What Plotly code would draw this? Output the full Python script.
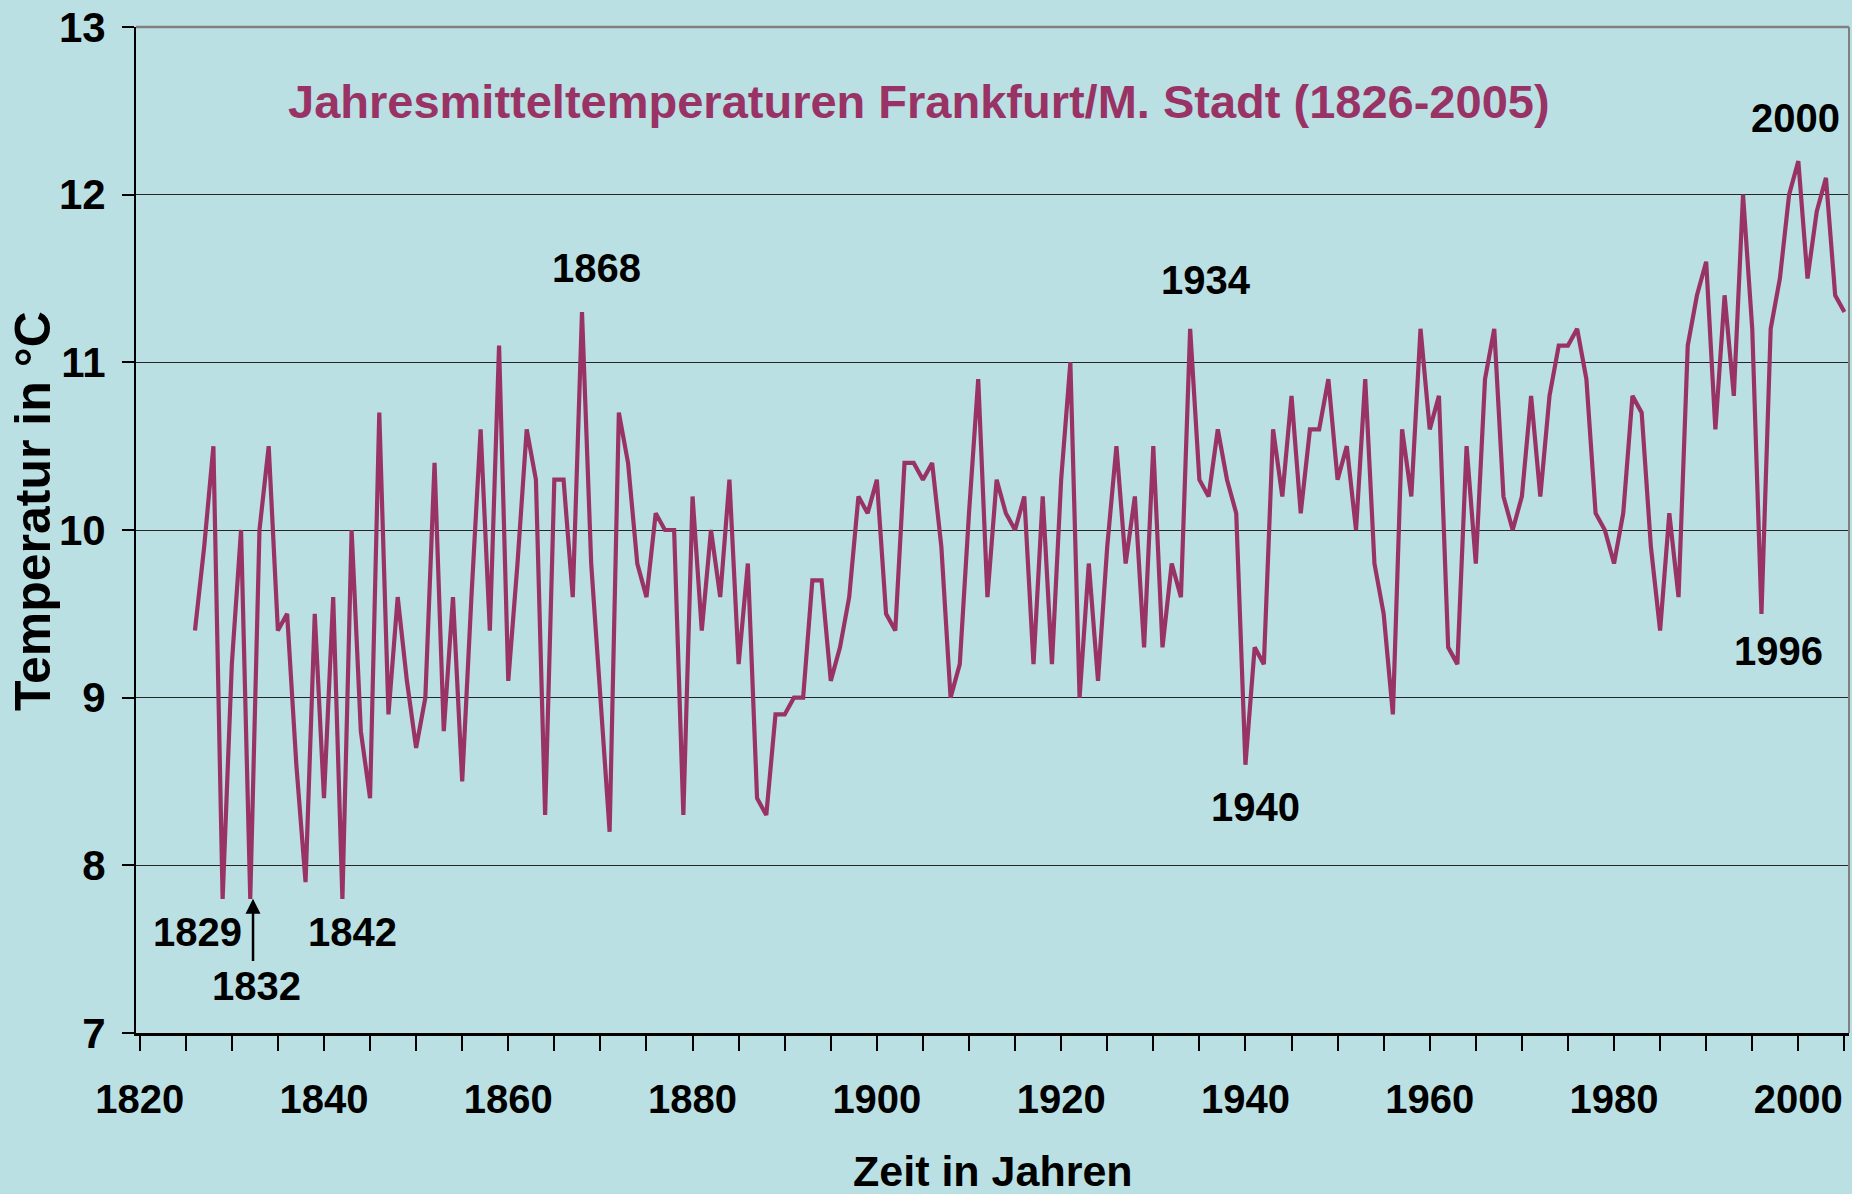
import plotly.graph_objects as go

# ---- data -----------------------------------------------------------------
years = list(range(1826, 2006))
temps = [
    9.4, 9.9, 10.5, 7.8, 9.2, 10.0, 7.8, 10.0, 10.5, 9.4,      # 1826-1835
    9.5, 8.6, 7.9, 9.5, 8.4, 9.6, 7.8, 10.0, 8.8, 8.4,         # 1836-1845
    10.7, 8.9, 9.6, 9.1, 8.7, 9.0, 10.4, 8.8, 9.6, 8.5,        # 1846-1855
    9.6, 10.6, 9.4, 11.1, 9.1, 9.8, 10.6, 10.3, 8.3, 10.3,     # 1856-1865
    10.3, 9.6, 11.3, 9.8, 9.0, 8.2, 10.7, 10.4, 9.8, 9.6,      # 1866-1875
    10.1, 10.0, 10.0, 8.3, 10.2, 9.4, 10.0, 9.6, 10.3, 9.2,    # 1876-1885
    9.8, 8.4, 8.3, 8.9, 8.9, 9.0, 9.0, 9.7, 9.7, 9.1,          # 1886-1895
    9.3, 9.6, 10.2, 10.1, 10.3, 9.5, 9.4, 10.4, 10.4, 10.3,    # 1896-1905
    10.4, 9.9, 9.0, 9.2, 10.1, 10.9, 9.6, 10.3, 10.1, 10.0,    # 1906-1915
    10.2, 9.2, 10.2, 9.2, 10.3, 11.0, 9.0, 9.8, 9.1, 9.9,      # 1916-1925
    10.5, 9.8, 10.2, 9.3, 10.5, 9.3, 9.8, 9.6, 11.2, 10.3,     # 1926-1935
    10.2, 10.6, 10.3, 10.1, 8.6, 9.3, 9.2, 10.6, 10.2, 10.8,   # 1936-1945
    10.1, 10.6, 10.6, 10.9, 10.3, 10.5, 10.0, 10.9, 9.8, 9.5,  # 1946-1955
    8.9, 10.6, 10.2, 11.2, 10.6, 10.8, 9.3, 9.2, 10.5, 9.8,    # 1956-1965
    10.9, 11.2, 10.2, 10.0, 10.2, 10.8, 10.2, 10.8, 11.1, 11.1,  # 1966-1975
    11.2, 10.9, 10.1, 10.0, 9.8, 10.1, 10.8, 10.7, 9.9, 9.4,   # 1976-1985
    10.1, 9.6, 11.1, 11.4, 11.6, 10.6, 11.4, 10.8, 12.0, 11.2, # 1986-1995
    9.5, 11.2, 11.5, 12.0, 12.2, 11.5, 11.9, 12.1, 11.4, 11.3, # 1996-2005
]

x_tick_vals = list(range(1820, 2006, 5))
x_tick_text = [str(v) if v % 20 == 0 else "" for v in x_tick_vals]
y_tick_vals = [7, 8, 9, 10, 11, 12, 13]

title_text = "Jahresmitteltemperaturen Frankfurt/M. Stadt (1826-2005)"
x_title = "Zeit in Jahren"
y_title = "Temperatur in °C"

# year labels: (text, x, y)
year_labels = [
    ("1868", 1869.6, 11.56),
    ("1934", 1935.7, 11.49),
    ("2000", 1999.7, 12.46),
    ("1996", 1997.8, 9.28),
    ("1940", 1941.1, 8.35),
    ("1829", 1826.3, 7.60),
    ("1842", 1843.1, 7.60),
    ("1832", 1832.7, 7.28),
]

# ---- style ----------------------------------------------------------------
BG = "#BBE0E3"
LINE = "#993366"
FONT = "Liberation Sans, Arial, sans-serif"

fig = go.Figure()
fig.add_trace(go.Scatter(
    x=years, y=temps, mode="lines",
    line=dict(color=LINE, width=4.2),
    hoverinfo="x+y", showlegend=False,
))

annotations = []
for txt, ax_, ay_ in year_labels:
    annotations.append(dict(
        x=ax_, y=ay_, xref="x", yref="y", text=txt, showarrow=False,
        font=dict(family=FONT, size=40, color="black", weight="bold"),
        xanchor="center", yanchor="middle",
    ))
# arrow pointing to 1832
annotations.append(dict(
    x=1832.3, y=7.80, xref="x", yref="y", ax=1832.3, ay=7.42,
    axref="x", ayref="y", text="", showarrow=True,
    arrowhead=2, arrowsize=1.2, arrowwidth=2.5, arrowcolor="black",
))
annotations.append(dict(
    x=0.457, y=0.926, xref="paper", yref="paper", text=title_text,
    showarrow=False, xanchor="center", yanchor="middle",
    font=dict(family=FONT, size=47, color=LINE, weight="bold"),
))
annotations.append(dict(
    x=0.5, y=-0.137, xref="paper", yref="paper", text=x_title,
    showarrow=False, xanchor="center", yanchor="middle",
    font=dict(family=FONT, size=43, color="black", weight="bold"),
))
annotations.append(dict(
    x=-0.0601, y=0.519, xref="paper", yref="paper", text=y_title,
    showarrow=False, xanchor="center", yanchor="middle", textangle=-90,
    font=dict(family=FONT, size=50, color="black", weight="bold"),
))

fig.update_layout(
    width=1852, height=1194,
    margin=dict(l=136, r=3, t=27, b=161, pad=0),
    paper_bgcolor=BG, plot_bgcolor=BG,
    annotations=annotations,
    shapes=[
        dict(type="line", xref="paper", yref="paper", x0=0, x1=1, y0=1, y1=1,
             line=dict(color="#808080", width=2.5)),
        dict(type="line", xref="paper", yref="paper", x0=1, x1=1, y0=0, y1=1,
             line=dict(color="#808080", width=2)),
    ],
)

fig.update_xaxes(
    range=[1819.6, 2005.5], tickmode="array",
    tickvals=x_tick_vals, ticktext=x_tick_text,
    ticks="outside", ticklen=15, tickwidth=1.5, tickcolor="black",
    showline=True, linecolor="black", linewidth=3,
    showgrid=False, zeroline=False,
    ticklabelstandoff=14,
    tickfont=dict(family=FONT, size=40, color="black", weight="bold"),
)
fig.update_yaxes(
    range=[7, 13], tickmode="array", tickvals=y_tick_vals,
    ticks="outside", ticklen=12, tickwidth=1.5, tickcolor="black",
    showline=True, linecolor="black", linewidth=2,
    showgrid=True, gridcolor="#262626", gridwidth=1.3, zeroline=False,
    ticklabelstandoff=8,
    tickfont=dict(family=FONT, size=42, color="black", weight="bold"),
)

fig.write_html(
    "out.html",
    config={"displayModeBar": False},
    post_script="document.body.style.margin='0';document.body.style.overflow='hidden';"
                "document.body.style.background='" + BG + "';",
)
